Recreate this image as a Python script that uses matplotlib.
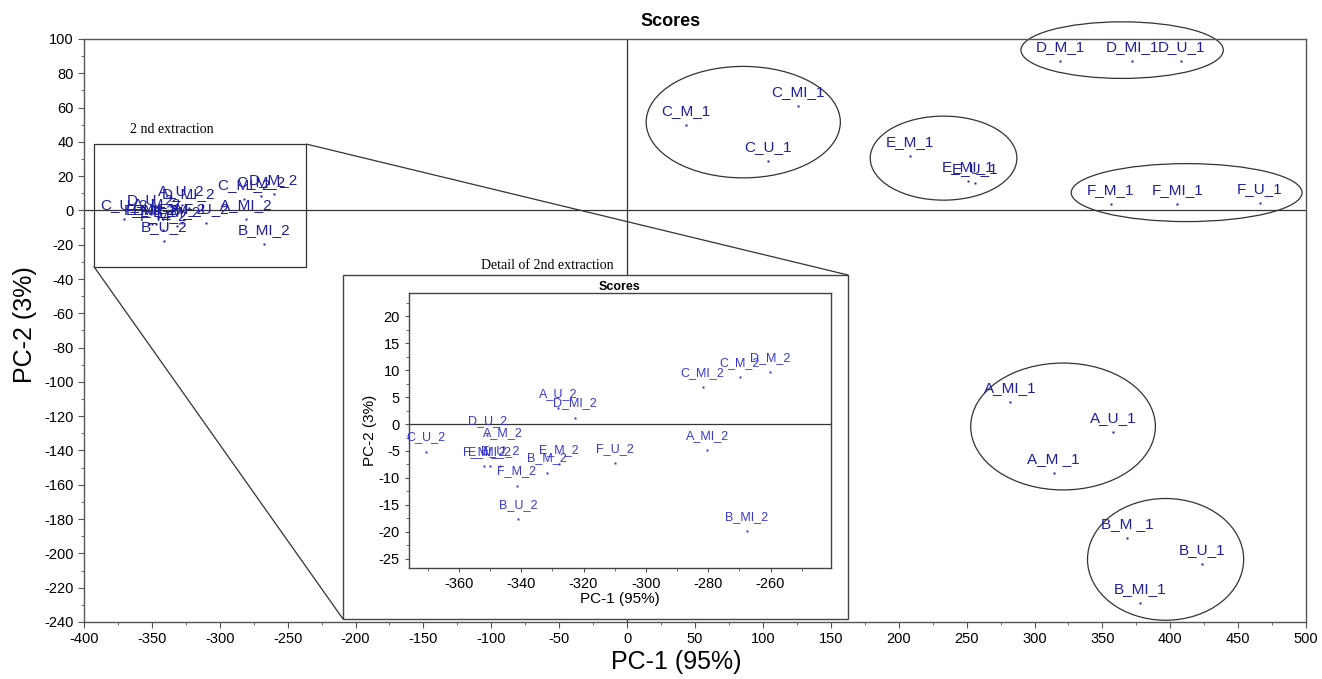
import numpy as np
import matplotlib
matplotlib.use("Agg")
import matplotlib.pyplot as plt
from matplotlib.patches import Ellipse, Rectangle, ConnectionPatch
from matplotlib.ticker import MultipleLocator

plt.rcParams['font.family'] = ['Liberation Sans', 'DejaVu Sans']
plt.rcParams['axes.unicode_minus'] = False

# PCA scores, 1st extraction
names_1 = ['A_MI_1', 'A_U_1', 'A_M _1', 'B_M _1', 'B_U_1', 'B_MI_1',
           'C_M_1', 'C_MI_1', 'C_U_1', 'D_M_1', 'D_MI_1', 'D_U_1',
           'E_M_1', 'E_MI_1', 'E_U_1', 'F_M_1', 'F_MI_1', 'F_U_1']
pc1_1 = [282, 358, 314, 368, 423, 378,
         43, 126, 104, 319, 372, 408,
         208, 251, 256, 356, 405, 466]
pc2_1 = [-112, -129, -153, -191, -206, -229,
         50, 61, 29, 87, 87, 87,
         32, 17, 16, 4, 3.5, 4.3]

# PCA scores, 2nd extraction
names_2 = ['A_U_2', 'D_MI_2', 'D_U_2', 'A_M_2', 'C_U_2', 'F_MI_2',
           'E_MI_2', 'E_U_2', 'E_M_2', 'B_M_2', 'F_M_2', 'B_U_2',
           'F_U_2', 'C_MI_2', 'C_M_2', 'D_M_2', 'A_MI_2', 'B_MI_2']
pc1_2 = [-328.1, -322.7, -350.9, -345.8, -370.6, -351.9,
         -350.1, -346.8, -327.8, -331.8, -341.5, -341.0,
         -310.0, -281.8, -269.8, -260.2, -280.3, -267.7]
pc2_2 = [3.0, 1.2, -2.1, -4.3, -5.1, -7.8,
         -7.8, -7.7, -7.4, -9.0, -11.4, -17.6,
         -7.2, 6.8, 8.7, 9.7, -4.8, -19.8]

groups = ['A', 'B', 'C', 'D', 'E', 'F']

lab_col = '#1f1fa0'
ins_col = '#3838d0'
frame_col = '#555555'

fig = plt.figure(figsize=(13.22, 6.79), dpi=100)
ax = fig.add_axes([0.0635, 0.0840, 0.9245, 0.8586])

x_all = pc1_1 + pc1_2
y_all = pc2_1 + pc2_2
n_all = names_1 + names_2
ax.plot(x_all, y_all, ls='none', marker='s', ms=1.7, color=lab_col, mec='none')
for n, x, y in zip(n_all, x_all, y_all):
    ax.annotate(n, (x, y), xytext=(0, 14), textcoords='offset pixels',
                ha='center', va='center', fontsize=11, color=lab_col)

ax.axhline(0, color='#333333', lw=0.9)
ax.axvline(0, color='#333333', lw=0.9)

ax.set_xlim(-400, 500)
ax.set_ylim(-240, 100)
ax.xaxis.set_major_locator(MultipleLocator(50))
ax.xaxis.set_minor_locator(MultipleLocator(25))
ax.yaxis.set_major_locator(MultipleLocator(20))
ax.yaxis.set_minor_locator(MultipleLocator(10))
ax.tick_params(which='both', direction='out', color=frame_col, labelsize=10.5)
ax.tick_params(which='major', length=4)
ax.tick_params(which='minor', length=2.5)
for s in ax.spines.values():
    s.set_color(frame_col)
    s.set_linewidth(1.0)

fig.text(671 / 1322, 1 - 22 / 679, 'Scores', ha='center', va='center',
         fontsize=13, fontweight='bold')
fig.text(676 / 1322, 1 - 662 / 679, 'PC-1 (95%)', ha='center', va='center', fontsize=18)
fig.text(25 / 1322, 1 - 325 / 679, 'PC-2 (3%)', ha='center', va='center',
         fontsize=18, rotation=90)

# ellipses round each 1st-extraction group
x1 = np.array(pc1_1)
y1 = np.array(pc2_1)
g1 = np.array([n[0] for n in names_1])
for g in groups:
    m = g1 == g
    cx = (x1[m].min() + x1[m].max()) / 2 + 1
    cy = (y1[m].min() + y1[m].max()) / 2 + 6.5
    w = np.ptp(x1[m]) + 60
    h = np.ptp(y1[m]) + 33
    ax.add_patch(Ellipse((cx, cy), w, h, fill=False, ec='#333333', lw=0.9,
                         clip_on=False))

# box round the 2nd extraction
x2 = np.array(pc1_2)
y2 = np.array(pc2_2)
bx0, bx1 = x2.min() - 22, x2.max() + 24
by0, by1 = y2.min() - 13, y2.max() + 29
ax.add_patch(Rectangle((bx0, by0), bx1 - bx0, by1 - by0, fill=False,
                       ec='#333333', lw=0.9))
ax.text((bx0 + bx1) / 2 - 21, by1 + 5, '2 nd extraction', ha='center', va='bottom',
        fontsize=10, family='Liberation Serif')

# inset frame
fx0, fy0, fx1, fy1 = 343 / 1322, 1 - 619 / 679, 848 / 1322, 1 - 275 / 679
frame = Rectangle((fx0, fy0), fx1 - fx0, fy1 - fy0, transform=fig.transFigure,
                  fc='white', ec='#444444', lw=1.0, zorder=1.5)
fig.patches.append(frame)
fig.text(547 / 1322, fy1 + 0.004, 'Detail of 2nd extraction', ha='center', va='bottom',
         fontsize=10, family='Liberation Serif')

for pa, pb in [((bx1, by1), (fx1, fy1)), ((bx0, by0), (fx0, fy0))]:
    cp = ConnectionPatch(xyA=pa, coordsA=ax.transData, xyB=pb, coordsB=fig.transFigure,
                         color='#333333', lw=0.9)
    fig.add_artist(cp)
    cp.set_zorder(3)

axi = fig.add_axes([409 / 1322, 1 - 568 / 679, (831 - 409) / 1322, (568 - 293) / 679],
                   zorder=2)
axi.plot(pc1_2, pc2_2, ls='none', marker='s', ms=1.5, color=ins_col, mec='none')
for n, x, y in zip(names_2, pc1_2, pc2_2):
    axi.annotate(n, (x, y), xytext=(0, 14), textcoords='offset pixels',
                 ha='center', va='center', fontsize=9, color=ins_col)
axi.axhline(0, color='#333333', lw=0.9)
axi.set_xlim(-376, -240.6)
axi.set_ylim(-26.7, 24.3)
axi.xaxis.set_major_locator(MultipleLocator(20))
axi.xaxis.set_minor_locator(MultipleLocator(10))
axi.yaxis.set_major_locator(MultipleLocator(5))
axi.yaxis.set_minor_locator(MultipleLocator(2.5))
axi.tick_params(which='both', direction='out', color=frame_col, labelsize=10.5)
axi.tick_params(which='major', length=3)
axi.tick_params(which='minor', length=2)
for s in axi.spines.values():
    s.set_color('#444444')
    s.set_linewidth(1.0)
axi.set_title('Scores', fontsize=9, fontweight='bold', pad=2)
axi.set_xlabel('PC-1 (95%)', fontsize=11, labelpad=1)
axi.set_ylabel('PC-2 (3%)', fontsize=11, labelpad=1)

fig.savefig('out.png', dpi=100)
